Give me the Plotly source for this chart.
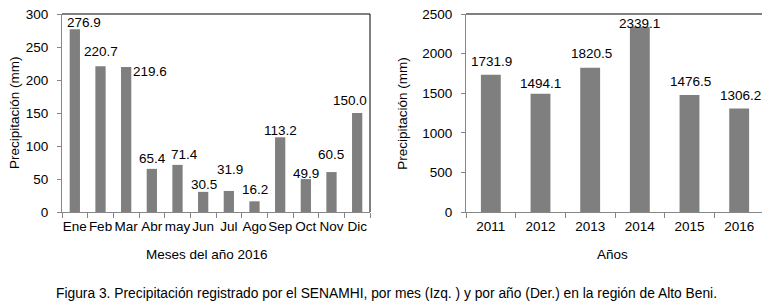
import plotly.graph_objects as go

# ---- data ----
months = ["Ene", "Feb", "Mar", "Abr", "may", "Jun", "Jul", "Ago", "Sep", "Oct", "Nov", "Dic"]
monthly_precip = [276.9, 220.7, 219.6, 65.4, 71.4, 30.5, 31.9, 16.2, 113.2, 49.9, 60.5, 150.0]
years = ["2011", "2012", "2013", "2014", "2015", "2016"]
annual_precip = [1731.9, 1494.1, 1820.5, 2339.1, 1476.5, 1306.2]

left_ticks = [0, 50, 100, 150, 200, 250, 300]
right_ticks = [0, 500, 1000, 1500, 2000, 2500]

# label offsets (pixels, dx right, dy down) relative to bar top
left_label_off = [(9.5, -7), (0.3, -14.6), (23.7, 4), (0.5, -10.5), (7, -10), (0.5, -7.6),
                  (0.7, -21), (0.7, -12.3), (0.5, -6.6), (-0.3, -5.7), (-0.3, -18), (-6.7, -13)]
right_label_off = [(0.7, -13.8), (0.3, -10.4), (1.5, -14.5), (-0.5, -3.4), (0.5, -13.3), (1, -13.5)]

W, H = 770, 303
PAGE_OFF = 8  # default page body margin
FONT = "Liberation Sans, Arial, sans-serif"
BAR = "#7f7f7f"
AXC = "#868686"
FS = 13.5

def px(x):
    return (x - PAGE_OFF) / W

def py(y):
    return 1 - (y - PAGE_OFF) / H

fig = go.Figure()
fig.add_trace(go.Bar(x=months, y=monthly_precip, marker=dict(color=BAR, line=dict(width=0)),
                     xaxis="x", yaxis="y", showlegend=False, hoverinfo="x+y"))
fig.add_trace(go.Bar(x=years, y=annual_precip, marker=dict(color=BAR, line=dict(width=0)),
                     xaxis="x2", yaxis="y2", showlegend=False, hoverinfo="x+y"))

annotations = []
# category axes: annotation x is the category's serial index
for i, (v, (dx, dy)) in enumerate(zip(monthly_precip, left_label_off)):
    annotations.append(dict(x=i, y=v, xref="x", yref="y", text=f"{v:.1f}", showarrow=False,
                            xshift=dx, yshift=-dy, xanchor="center", yanchor="middle",
                            font=dict(size=FS, color="#000", family=FONT)))
for i, (v, (dx, dy)) in enumerate(zip(annual_precip, right_label_off)):
    annotations.append(dict(x=i, y=v, xref="x2", yref="y2", text=f"{v:.1f}", showarrow=False,
                            xshift=dx, yshift=-dy, xanchor="center", yanchor="middle",
                            font=dict(size=FS, color="#000", family=FONT)))

# axis titles and caption
annotations += [
    dict(x=px(206.5), y=py(254), xref="paper", yref="paper", text="Meses del año 2016", showarrow=False,
         xanchor="center", yanchor="middle", font=dict(size=FS, color="#000", family=FONT)),
    dict(x=px(612), y=py(254), xref="paper", yref="paper", text="Años", showarrow=False,
         xanchor="center", yanchor="middle", font=dict(size=FS, color="#000", family=FONT)),
    dict(x=px(15), y=py(113), xref="paper", yref="paper", text="Precipitación (mm)", showarrow=False,
         textangle=-90, xanchor="center", yanchor="middle", font=dict(size=FS, color="#000", family=FONT)),
    dict(x=px(402.7), y=py(113), xref="paper", yref="paper", text="Precipitación (mm)", showarrow=False,
         textangle=-90, xanchor="center", yanchor="middle", font=dict(size=FS, color="#000", family=FONT)),
    dict(x=px(386), y=py(293), xref="paper", yref="paper",
         text="Figura 3. Precipitación registrado por el SENAMHI, por mes (Izq. ) y por año (Der.) en la región de Alto Beni.",
         showarrow=False, xanchor="center", yanchor="middle", font=dict(size=13.8, color="#000", family=FONT)),
]

shapes = []
for xr, yr in (("x domain", "y domain"), ("x2 domain", "y2 domain")):
    shapes.append(dict(type="line", xref=xr, yref=yr, x0=0, x1=1, y0=1, y1=1, line=dict(color="#000", width=1)))
    shapes.append(dict(type="line", xref=xr, yref=yr, x0=1, x1=1, y0=0, y1=1, line=dict(color="#000", width=1)))

xaxis_common = dict(type="category", showline=True, linecolor=AXC, linewidth=1, ticks="outside", ticklen=5,
                    tickcolor=AXC, tickson="boundaries", showgrid=False, zeroline=False, fixedrange=True,
                    automargin=False, tickangle=0, tickfont=dict(size=FS, color="#000", family=FONT),
                    ticklabelstandoff=2, ticklabeloverflow="allow")
yaxis_common = dict(showline=True, linecolor=AXC, linewidth=1, ticks="outside", ticklen=4, tickcolor=AXC,
                    showgrid=False, zeroline=False, fixedrange=True, automargin=False,
                    tickfont=dict(size=FS, color="#000", family=FONT), ticklabelstandoff=6,
                    ticklabeloverflow="allow")

fig.update_layout(
    width=W, height=H, autosize=False,
    margin=dict(l=0, r=0, t=0, b=0, pad=0),
    paper_bgcolor="white", plot_bgcolor="white",
    bargap=0.6,
    xaxis=dict(domain=[px(62), px(370)], anchor="y", range=[-0.5, len(months) - 0.5], **xaxis_common),
    yaxis=dict(domain=[py(212), py(14)], anchor="x", range=[0, 300], tickvals=left_ticks, **yaxis_common),
    xaxis2=dict(domain=[px(466), px(764)], anchor="y2", range=[-0.5, len(years) - 0.5], **xaxis_common),
    yaxis2=dict(domain=[py(212), py(14)], anchor="x2", range=[0, 2500], tickvals=right_ticks, **yaxis_common),
    annotations=annotations,
    shapes=shapes,
)

fig.write_html("out.html")
